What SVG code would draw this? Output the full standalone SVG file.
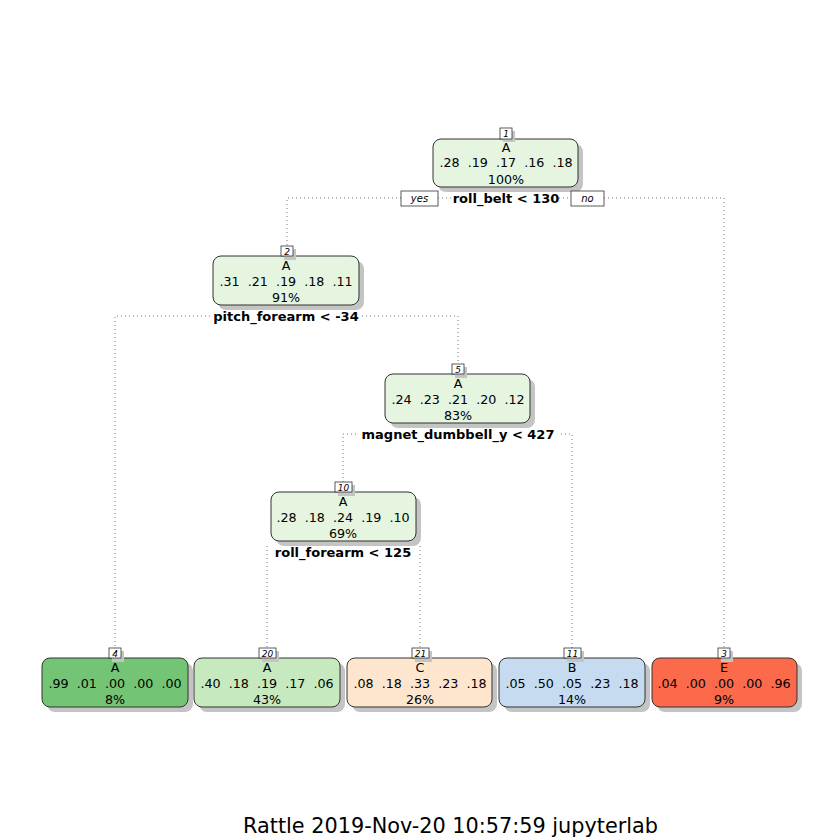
<svg xmlns="http://www.w3.org/2000/svg" width="840" height="840" viewBox="0 0 840 840">
<style>
text{font-family:"DejaVu Sans","Liberation Sans",sans-serif;fill:#000}
.nt{font-size:12.7px;text-anchor:middle}
.sp{font-size:13px;font-weight:bold;text-anchor:middle}
.tg{font-size:9px;font-style:italic;text-anchor:middle}
.yn{font-size:10px;font-style:italic;text-anchor:middle}
.box{stroke:#333;stroke-width:1}
.sh{fill:#c4c4c4}
.tb{fill:#fff;stroke:#333;stroke-width:0.8}
.e{fill:none;stroke:#777;stroke-width:1;stroke-dasharray:1 3}
</style>
<rect width="840" height="840" fill="#fff"/>
<g id="connectors">
<path class="e" d="M401 198 H287 V246"/>
<path class="e" d="M438 198 H453"/>
<path class="e" d="M559 198 H571"/>
<path class="e" d="M604 198 H724 V648"/>
<path class="e" d="M210 316 H115 V648"/>
<path class="e" d="M362 316 H458 V364"/>
<path class="e" d="M356 434 H343 V482"/>
<path class="e" d="M561 434 H572 V648"/>
<path class="e" d="M267 546 V648"/>
<path class="e" d="M420 546 V648"/>
</g>
<g id="node1">
<rect class="sh" x="438" y="144" width="145" height="48" rx="8"/>
<rect class="box" x="433" y="139" width="145" height="48" rx="8" fill="#e5f5e0"/>
<rect class="sh" x="503" y="131" width="12" height="11"/>
<rect class="tb" x="500" y="128" width="12" height="11"/>
<text class="tg" x="506" y="137">1</text>
<text class="nt" x="506" y="152">A</text>
<text class="nt" x="506" y="167" xml:space="preserve">.28  .19  .17  .16  .18</text>
<text class="nt" x="506" y="184">100%</text>
<rect class="tb" x="401" y="191" width="37" height="15"/>
<text class="yn" x="419.5" y="202">yes</text>
<text class="sp" x="506" y="203">roll_belt &lt; 130</text>
<rect class="tb" x="571" y="191" width="33" height="15"/>
<text class="yn" x="587.5" y="202">no</text>
</g>
<g id="node2">
<rect class="sh" x="218" y="261" width="146" height="49" rx="8"/>
<rect class="box" x="213" y="256" width="146" height="49" rx="8" fill="#e5f5e0"/>
<rect class="sh" x="284" y="249" width="12" height="11"/>
<rect class="tb" x="281" y="246" width="12" height="10"/>
<text class="tg" x="287" y="254.5">2</text>
<text class="nt" x="286" y="270">A</text>
<text class="nt" x="286" y="286" xml:space="preserve">.31  .21  .19  .18  .11</text>
<text class="nt" x="286" y="302">91%</text>
<text class="sp" x="286" y="321">pitch_forearm &lt; -34</text>
</g>
<g id="node5">
<rect class="sh" x="390" y="379" width="145" height="49" rx="8"/>
<rect class="box" x="385" y="374" width="145" height="49" rx="8" fill="#e5f5e0"/>
<rect class="sh" x="455" y="367" width="12" height="11"/>
<rect class="tb" x="452" y="364" width="12" height="10"/>
<text class="tg" x="458" y="372.5">5</text>
<text class="nt" x="458" y="388">A</text>
<text class="nt" x="458" y="404" xml:space="preserve">.24  .23  .21  .20  .12</text>
<text class="nt" x="458" y="420">83%</text>
<text class="sp" x="458" y="439">magnet_dumbbell_y &lt; 427</text>
</g>
<g id="node10">
<rect class="sh" x="276" y="497" width="145" height="49" rx="8"/>
<rect class="box" x="271" y="492" width="145" height="49" rx="8" fill="#e5f5e0"/>
<rect class="sh" x="338" y="485" width="17" height="11"/>
<rect class="tb" x="335" y="482" width="17" height="10"/>
<text class="tg" x="343.5" y="490.5">10</text>
<text class="nt" x="343" y="506">A</text>
<text class="nt" x="343" y="522" xml:space="preserve">.28  .18  .24  .19  .10</text>
<text class="nt" x="343" y="538">69%</text>
<text class="sp" x="343" y="557">roll_forearm &lt; 125</text>
</g>
<g id="node4">
<rect class="sh" x="47" y="663" width="146" height="49" rx="8"/>
<rect class="box" x="42" y="658" width="146" height="49" rx="8" fill="#74c476"/>
<rect class="sh" x="112" y="651" width="12" height="11"/>
<rect class="tb" x="109" y="648" width="12" height="10"/>
<text class="tg" x="115" y="656.5">4</text>
<text class="nt" x="115" y="672">A</text>
<text class="nt" x="115" y="688" xml:space="preserve">.99  .01  .00  .00  .00</text>
<text class="nt" x="115" y="704">8%</text>
</g>
<g id="node20">
<rect class="sh" x="199" y="663" width="146" height="49" rx="8"/>
<rect class="box" x="194" y="658" width="146" height="49" rx="8" fill="#c7e9c0"/>
<rect class="sh" x="262" y="651" width="17" height="11"/>
<rect class="tb" x="259" y="648" width="17" height="10"/>
<text class="tg" x="267.5" y="656.5">20</text>
<text class="nt" x="267" y="672">A</text>
<text class="nt" x="267" y="688" xml:space="preserve">.40  .18  .19  .17  .06</text>
<text class="nt" x="267" y="704">43%</text>
</g>
<g id="node21">
<rect class="sh" x="352" y="663" width="145" height="49" rx="8"/>
<rect class="box" x="347" y="658" width="145" height="49" rx="8" fill="#fee6ce"/>
<rect class="sh" x="415" y="651" width="17" height="11"/>
<rect class="tb" x="412" y="648" width="17" height="10"/>
<text class="tg" x="420.5" y="656.5">21</text>
<text class="nt" x="420" y="672">C</text>
<text class="nt" x="420" y="688" xml:space="preserve">.08  .18  .33  .23  .18</text>
<text class="nt" x="420" y="704">26%</text>
</g>
<g id="node11">
<rect class="sh" x="504" y="663" width="146" height="49" rx="8"/>
<rect class="box" x="499" y="658" width="146" height="49" rx="8" fill="#c6dbef"/>
<rect class="sh" x="567" y="651" width="17" height="11"/>
<rect class="tb" x="564" y="648" width="17" height="10"/>
<text class="tg" x="572.5" y="656.5">11</text>
<text class="nt" x="572" y="672">B</text>
<text class="nt" x="572" y="688" xml:space="preserve">.05  .50  .05  .23  .18</text>
<text class="nt" x="572" y="704">14%</text>
</g>
<g id="node3">
<rect class="sh" x="657" y="663" width="145" height="49" rx="8"/>
<rect class="box" x="652" y="658" width="145" height="49" rx="8" fill="#fb6a4a"/>
<rect class="sh" x="721" y="651" width="12" height="11"/>
<rect class="tb" x="718" y="648" width="12" height="10"/>
<text class="tg" x="724" y="656.5">3</text>
<text class="nt" x="724" y="672">E</text>
<text class="nt" x="724" y="688" xml:space="preserve">.04  .00  .00  .00  .96</text>
<text class="nt" x="724" y="704">9%</text>
</g>
<text x="450.5" y="833" style="font-size:20.8px;text-anchor:middle">Rattle 2019-Nov-20 10:57:59 jupyterlab</text>
</svg>
